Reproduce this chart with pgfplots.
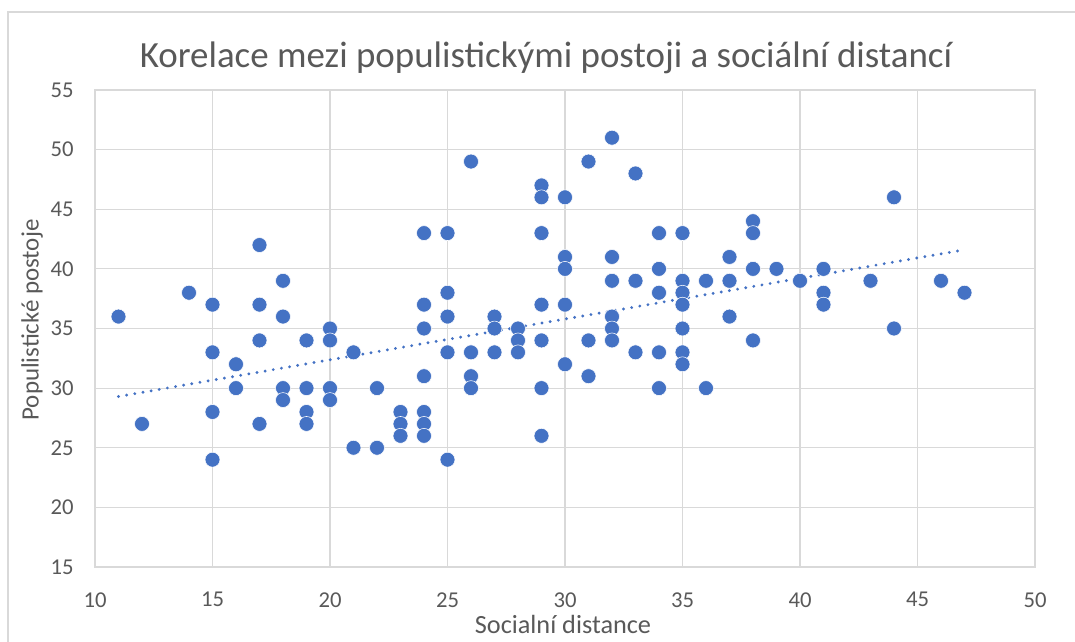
\documentclass[border=0pt]{standalone}
\usepackage{fontspec}
\setmainfont{Carlito}
\usepackage{pgfplots}
\pgfplotsset{compat=1.18}
\definecolor{mk}{HTML}{4472C4}
\definecolor{gridc}{HTML}{D9D9D9}
\definecolor{txt}{HTML}{595959}
\begin{document}
\begin{tikzpicture}[x=0.75pt,y=0.75pt]
\useasboundingbox (-95,-75) rectangle (980,567);
\draw[gridc, line width=1.2] (-87,-80) -- (-87,555) -- (990,555);
\begin{axis}[
  at={(0,0)}, anchor=origin,
  scale only axis, width=705pt, height=357.75pt,
  xmin=10, xmax=50, ymin=15, ymax=55,
  xtick={10,15,...,50}, ytick={15,20,...,55},
  grid=major, major grid style={gridc, line width=0.8pt},
  axis line style={gridc, line width=0.8pt},
  major tick length=0pt,
  tick label style={font=\fontsize{17}{19}\selectfont, text=txt},
  xticklabel style={yshift=-15.5pt},
  yticklabel style={xshift=-12.5pt},
  /pgf/number format/assume math mode=true,
  clip=false,
]
\addplot[only marks, mark=*, mark size=5.6pt, mark options={fill=mk, draw=white, line width=0.4pt}] coordinates {
(11,36) (12,27) (14,38)
(15,37) (15,33) (15,28) (15,24)
(16,32) (16,30)
(17,42) (17,37) (17,34) (17,27)
(18,39) (18,36) (18,30) (18,29)
(19,34) (19,30) (19,28) (19,27)
(20,35) (20,34) (20,30) (20,29)
(21,33) (21,25)
(22,30) (22,25)
(23,28) (23,27) (23,26)
(24,43) (24,37) (24,35) (24,31) (24,28) (24,27) (24,26)
(25,43) (25,38) (25,36) (25,33) (25,24)
(26,49) (26,33) (26,31) (26,30)
(27,36) (27,35) (27,33)
(28,35) (28,34) (28,33)
(29,47) (29,46) (29,43) (29,37) (29,34) (29,30) (29,26)
(30,46) (30,41) (30,40) (30,37) (30,32)
(31,49) (31,34) (31,31)
(32,51) (32,41) (32,39) (32,36) (32,35) (32,34)
(33,48) (33,39) (33,33)
(34,43) (34,40) (34,38) (34,33) (34,30)
(35,43) (35,39) (35,38) (35,37) (35,35) (35,33) (35,32)
(36,39) (36,30)
(37,41) (37,39) (37,36)
(38,44) (38,43) (38,40) (38,34)
(39,40) (40,39)
(41,40) (41,38) (41,37)
(43,39) (44,46) (44,35) (46,39) (47,38)
};
\addplot[mk, line width=2.4pt, line cap=round, dash pattern=on 0pt off 6.2pt] coordinates {(11,29.3) (47,41.6)};
\end{axis}
\node[font=\fontsize{27.7}{32}\selectfont, text=txt] at (451,509) {Korelace mezi populistickými postoji a sociální distancí};
\node[font=\fontsize{19.7}{22}\selectfont, text=txt] at (468,-57) {Socialní distance};
\node[font=\fontsize{18.7}{21}\selectfont, text=txt, rotate=90] at (-63,247) {Populistické postoje};
\end{tikzpicture}
\end{document}
